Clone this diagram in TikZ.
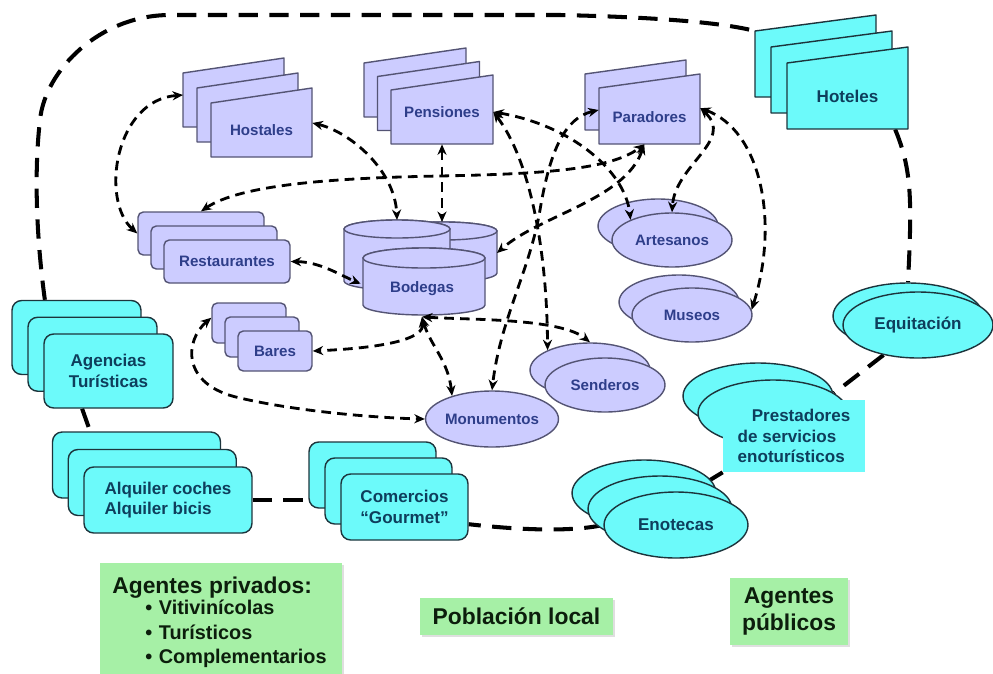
\documentclass[tikz,border=0pt]{standalone}
\usepackage{fontspec}
\setmainfont{Liberation Sans}
\definecolor{lavfill}{RGB}{204,204,255}
\definecolor{lavline}{RGB}{84,84,116}
\definecolor{lavtext}{RGB}{46,62,138}
\definecolor{cyanfill}{RGB}{108,250,250}
\definecolor{cyanline}{RGB}{28,52,60}
\definecolor{cyantext}{RGB}{14,62,92}
\definecolor{notefill}{RGB}{166,240,166}
\definecolor{notetext}{RGB}{12,30,12}
\usetikzlibrary{arrows.meta,shapes.geometric,backgrounds,shadows}
\newcommand\lavfont{\bfseries\fontsize{8.6}{10.3}\selectfont}
\newcommand\cyanfont{\bfseries\fontsize{9.7}{11.8}\selectfont}
\newcommand\bignote{\bfseries\fontsize{13}{15.4}\selectfont}
\tikzset{
  lavcard/.style={draw=lavline, fill=lavfill, line width=0.8pt, line join=round},
  cyancard/.style={draw=cyanline, fill=cyanfill, line width=0.8pt, line join=round},
  lavbox/.style={lavcard, rounded corners=3pt, inner sep=0pt, font=\lavfont, text=lavtext},
  cyanbox/.style={cyancard, rounded corners=5.5pt, inner sep=0pt, font=\cyanfont, text=cyantext},
  lavoval/.style={lavcard, ellipse, inner sep=0pt, minimum width=2.4cm, minimum height=1.08cm, font=\lavfont, text=lavtext},
  cyanoval/.style={cyancard, ellipse, inner sep=0pt, font=\cyanfont, text=cyantext},
  cyanplain/.style={fill=cyanfill, inner sep=0pt, font=\cyanfont, text=cyantext},
  tag/.style={inner sep=0pt, font=\lavfont, text=lavtext},
  note/.style={fill=notefill, text=notetext, inner sep=0pt, drop shadow={shadow xshift=1.2pt, shadow yshift=-1.2pt, opacity=0.25}},
  link/.style={{Stealth[length=6pt,width=5.2pt]}-{Stealth[length=6pt,width=5.2pt]}, line width=1.6pt, dash pattern=on 5.5pt off 3.5pt},
  tie/.style={line width=2.3pt, dash pattern=on 11pt off 6.5pt},
}
\begin{document}
\begin{tikzpicture}[x=0.02cm,y=-0.02cm]
\useasboundingbox (0,0) rectangle (993,673);
\foreach \s in {2,1,0} \draw[lavcard,shift={(-14*\s,-15*\s)}] (211,157) -- (312,157) -- (312,88) -- (211,103) -- cycle;
\node[tag, minimum width=2.02cm, minimum height=1.08cm] (hos) at (261.5,130) {Hostales};
\coordinate (hosw) at (183,95);
\foreach \s in {2,1,0} \draw[lavcard,shift={(-13.5*\s,-13.5*\s)}] (391,144) -- (493,144) -- (493,75) -- (391,90) -- cycle;
\node[tag, minimum width=2.04cm, minimum height=1.28cm] (pen) at (442,112) {Pensiones};
\foreach \s in {1,0} \draw[lavcard,shift={(-14*\s,-14*\s)}] (599,144) -- (700,144) -- (700,74) -- (599,88) -- cycle;
\node[tag, minimum width=2.02cm, minimum height=1.08cm] (par) at (649.5,117) {Paradores};
\foreach \s in {2,1,0} \draw[cyancard,shift={(-16*\s,-16*\s)}] (787,129) -- (908,129) -- (908,47) -- (787,63) -- cycle;
\node[tag, font=\cyanfont, text=cyantext, minimum width=2.42cm, minimum height=1.32cm] (hot) at (847.5,96) {Hoteles};
\coordinate (hotw) at (755,31);
\foreach \cx/\rx/\ry/\t/\u in {444/53/9/231/273, 397/53/9/229/281, 424/61/10/258/305} {
  \draw[lavcard] ({\cx-\rx},\t) -- ({\cx-\rx},\u) arc[start angle=180, end angle=0, x radius=\rx, y radius=\ry] -- ({\cx+\rx},\t) arc[start angle=0, end angle=-180, x radius=\rx, y radius=\ry] -- cycle;
  \draw[lavcard] (\cx,\t) ellipse[x radius=\rx, y radius=\ry];
}
\node[tag, minimum width=2.44cm, minimum height=1.1cm] (bod) at (422,289) {Bodegas};
\coordinate (bodl) at (397,220);
\coordinate (bodr) at (442,222);
\coordinate (bode) at (497,253);
\foreach \s in {2,1} \node[lavbox, minimum width=2.52cm, minimum height=0.86cm] (res\s) at (227-13*\s,261.5-14*\s) {};
\node[lavbox, minimum width=2.52cm, minimum height=0.86cm] (res) at (227,261.5) {Restaurantes};
\foreach \s in {2,1} \node[lavbox, minimum width=1.48cm, minimum height=0.8cm] (bar\s) at (275-13*\s,351-14*\s) {};
\node[lavbox, minimum width=1.48cm, minimum height=0.8cm] (bar) at (275,351) {Bares};
\node[lavoval] (art1) at (658,226) {};
\node[lavoval] (art) at (672,240) {Artesanos};
\node[lavoval] (mus1) at (679,302) {};
\node[lavoval] (mus) at (692,315) {Museos};
\node[lavoval] (sen1) at (590,370) {};
\node[lavoval] (sen) at (605,385) {Senderos};
\node[lavoval, minimum height=1.12cm] (mon) at (492,419) {Monumentos};
\foreach \s in {2,1} \node[cyanbox, minimum width=2.58cm, minimum height=1.48cm] (age\s) at (108.5-16*\s,371-16.75*\s) {};
\node[cyanbox, minimum width=2.58cm, minimum height=1.48cm, align=center] (age) at (108.5,371) {Agencias\\Turísticas};
\foreach \s in {2,1} \node[cyanbox, minimum width=3.36cm, minimum height=1.32cm] (alq\s) at (168-15.75*\s,500-17.5*\s) {};
\node[cyanbox, minimum width=3.36cm, minimum height=1.32cm, align=left] (alq) at (168,500) {Alquiler coches\\Alquiler bicis};
\foreach \s in {2,1} \node[cyanbox, minimum width=2.54cm, minimum height=1.32cm] (com\s) at (404.5-16*\s,507-16*\s) {};
\node[cyanbox, minimum width=2.54cm, minimum height=1.32cm, align=center] (com) at (404.5,507) {Comercios\\“Gourmet”};
\node[cyanoval, minimum width=3cm, minimum height=1.32cm] (equ1) at (908,316) {};
\node[cyanoval, minimum width=3cm, minimum height=1.32cm] (equ) at (918,325) {Equitación};
\node[cyanoval, minimum width=3cm, minimum height=1.32cm] (pre1) at (758,396) {};
\node[cyanoval, minimum width=3cm, minimum height=1.32cm] (pre2) at (773,413) {};
\node[cyanplain, minimum width=2.84cm, minimum height=1.44cm, align=left] (pre) at (794,436) {\hspace*{8pt}Prestadores\\de servicios\\enoturísticos};
\foreach \s in {2,1} \node[cyanoval, minimum width=2.88cm, minimum height=1.32cm] (eno\s) at (676-16*\s,525-16*\s) {};
\node[cyanoval, minimum width=2.88cm, minimum height=1.32cm] (eno) at (676,525) {Enotecas};
\node[note, anchor=north west, text width=4.36cm, inner xsep=0.24cm, inner ysep=7.7pt, align=left, font=\bfseries\fontsize{11.3}{14}\selectfont] (priv) at (100,563) {{\fontsize{13}{15}\selectfont Agentes privados:}\\[-2pt]\hspace*{0.66cm}• Vitivinícolas\\\hspace*{0.66cm}• Turísticos\\\hspace*{0.66cm}• Complementarios};
\node[note, minimum width=3.86cm, minimum height=0.74cm, font=\bignote] (pob) at (516.5,616.5) {Población local};
\node[note, minimum width=2.36cm, minimum height=1.34cm, align=center, font=\bignote] (pub) at (789,611.5) {Agentes\\públicos};
\begin{scope}[on background layer]
\draw[tie] (age2.130) .. controls (38,250) and (33,180) .. (40,120) .. controls (45,70) and (100,15) .. (170,15) -- (560,15) .. controls (650,17) and (720,22) .. (hotw);
\draw[tie] (hot.-35) .. controls (912,170) and (912,200) .. (equ1.north);
\draw[tie] (equ.221) -- (pre2.18);
\draw[tie] (pre.south west) -- (eno1.30);
\draw[tie] (eno.west) .. controls (570,532) and (520,530) .. (com.-15);
\draw[tie] (alq.east) -- (alq.east -| com2.west);
\draw[tie] (age.235) -- (alq2.144);
\end{scope}
\draw[link] ([yshift=4pt]hos.east) .. controls (350,132) and (395,170) .. (bodl);
\draw[link] (hosw) .. controls (115,100) and (100,200) .. (res2.west);
\draw[link] (pen.south) -- (bodr);
\draw[link] (res2.north) .. controls (240,185) and (330,178) .. (440,176) .. controls (540,174) and (610,170) .. ([xshift=-3pt]par.south);
\draw[link] (pen.east) .. controls (570,125) and (625,170) .. (art.154);
\draw[link] (pen.east) .. controls (530,160) and (547,250) .. (sen1.155);
\draw[link] ([yshift=4pt]par.west) .. controls (565,118) and (550,150) .. (540,210) .. controls (530,270) and (500,320) .. (mon.north);
\draw[link] ([xshift=-3pt]par.south) .. controls (625,200) and (540,215) .. (bode);
\draw[link] ([yshift=5pt]par.east) .. controls (735,140) and (675,165) .. (art.north);
\draw[link] ([yshift=5pt]par.east) .. controls (760,130) and (780,220) .. (mus.5);
\draw[link] (res.east) .. controls (320,262) and (340,275) .. ([yshift=3pt]bod.west);
\draw[link] (bod.south) .. controls (425,340) and (380,348) .. (bar.east);
\draw[link] (bod.south) .. controls (430,345) and (448,360) .. (mon.150);
\draw[link] (bod.south) .. controls (470,320) and (560,318) .. (sen1.north);
\draw[link] ([yshift=3pt]bar2.west) .. controls (185,340) and (180,385) .. (240,398) .. controls (300,412) and (380,418) .. (mon.west);
\end{tikzpicture}
\end{document}
